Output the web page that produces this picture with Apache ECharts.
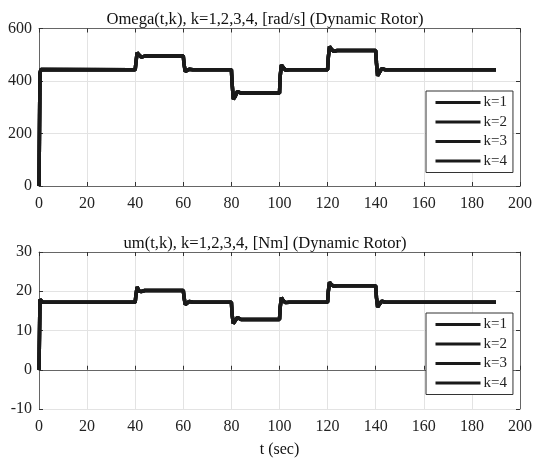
<!DOCTYPE html>
<html lang="en">

<head>
    <meta charset="UTF-8">
    <title>Dynamic Rotor</title>
    <script src="https://cdn.jsdelivr.net/npm/echarts@6/dist/echarts.min.js"></script>
    <style>
        html, body { margin: 0; padding: 0; background: #fff; }
        #main { width: 535px; height: 459px; }
    </style>
</head>

<body>
    <div id="main"></div>
    <script>
        // time points (s)
        var t = [0, 0.4, 0.8, 1.5, 40, 40.3, 40.8, 41.5, 42.5, 44, 60, 60.3, 60.8, 61.5, 62.5, 64,
            80, 80.3, 80.8, 81.5, 82.5, 84, 100, 100.3, 100.8, 101.5, 102.5, 104,
            120, 120.3, 120.8, 121.5, 122.5, 124, 140, 140.3, 140.8, 141.5, 142.5, 144, 190];
        // Omega [rad/s]
        var omega = [0, 430, 444, 443, 443, 470, 508, 500, 491, 495, 495, 465, 436, 438, 445, 443,
            443, 390, 331, 340, 360, 354, 354, 420, 461, 452, 441, 443,
            443, 490, 532, 522, 513, 516, 516, 470, 420, 425, 447, 443, 443];
        // um [Nm]
        var um = [0, 17.9, 17.4, 17.2, 17.2, 19, 21.1, 20.1, 19.9, 20.2, 20.2, 18.5, 16.6, 17.0, 17.4, 17.2,
            17.2, 14, 11.8, 12.2, 13.3, 12.8, 12.8, 16, 18.4, 17.6, 17.1, 17.2,
            17.2, 20, 22.3, 21.7, 21.3, 21.4, 21.4, 18.5, 16.0, 16.5, 17.5, 17.2, 17.2];
        var kNames = ['k=1', 'k=2', 'k=3', 'k=4'];
        var xTicks = [0, 200, 20];
        var omegaTicks = [0, 600, 200];
        var umTicks = [-10, 30, 10];

        var font = 'Liberation Serif';
        var frameColor = '#666';

        function pairs(xs, ys) {
            var out = [];
            for (var i = 0; i < xs.length; i++) out.push([xs[i], ys[i]]);
            return out;
        }

        function mainX(gi, ticks, name) {
            return {
                type: 'value', gridIndex: gi, min: ticks[0], max: ticks[1], interval: ticks[2],
                position: 'bottom',
                name: name || '', nameLocation: 'middle', nameGap: 33,
                nameTextStyle: { fontFamily: font, fontSize: 16, color: '#111' },
                axisLine: { lineStyle: { color: frameColor, width: 1 } },
                axisTick: { inside: true, length: 4, lineStyle: { color: '#333' } },
                axisLabel: { fontFamily: font, fontSize: 16, color: '#222', margin: 10 },
                splitLine: { show: true, lineStyle: { color: '#e3e3e3', width: 1 } }
            };
        }
        function frameX(gi, ticks) {
            return {
                type: 'value', gridIndex: gi, min: ticks[0], max: ticks[1], interval: ticks[2],
                position: 'top',
                axisLine: { show: true, onZero: false, lineStyle: { color: frameColor, width: 1 } },
                axisTick: { inside: true, length: 4, lineStyle: { color: '#333' } },
                axisLabel: { show: false },
                splitLine: { show: false }
            };
        }
        function mainY(gi, ticks) {
            return {
                type: 'value', gridIndex: gi, min: ticks[0], max: ticks[1], interval: ticks[2],
                position: 'left',
                axisLine: { show: true, onZero: false, lineStyle: { color: frameColor, width: 1 } },
                axisTick: { show: true, inside: true, length: 4, lineStyle: { color: '#333' } },
                axisLabel: { fontFamily: font, fontSize: 16, color: '#222', margin: 7 },
                splitLine: { show: true, lineStyle: { color: '#e3e3e3', width: 1 } }
            };
        }
        function frameY(gi, ticks) {
            return {
                type: 'value', gridIndex: gi, min: ticks[0], max: ticks[1], interval: ticks[2],
                position: 'right',
                axisLine: { show: true, onZero: false, lineStyle: { color: frameColor, width: 1 } },
                axisTick: { show: true, inside: true, length: 4, lineStyle: { color: '#333' } },
                axisLabel: { show: false },
                splitLine: { show: false }
            };
        }

        var series = [];
        kNames.forEach(function (k) {
            series.push({
                name: k, type: 'line', xAxisIndex: 0, yAxisIndex: 0,
                data: pairs(t, omega), showSymbol: false, symbol: 'none',
                lineStyle: { color: '#1a1a1a', width: 3.5 }, itemStyle: { color: '#1a1a1a' },
                animation: false, z: 3
            });
            series.push({
                name: k, type: 'line', xAxisIndex: 2, yAxisIndex: 2,
                data: pairs(t, um), showSymbol: false, symbol: 'none',
                lineStyle: { color: '#1a1a1a', width: 3.5 }, itemStyle: { color: '#1a1a1a' },
                animation: false, z: 3
            });
        });

        function legend(top) {
            return {
                data: kNames, orient: 'vertical', left: 426, top: top,
                itemWidth: 45, itemHeight: 14, itemGap: 4.5,
                padding: [4, 6, 4, 8],
                borderColor: '#333', borderWidth: 1, backgroundColor: '#fff',
                lineStyle: { width: 3, color: '#1a1a1a' },
                itemStyle: { opacity: 0, borderWidth: 0 },
                textStyle: { fontFamily: font, fontSize: 15, color: '#222', padding: [0, 0, 0, -2] },
                selectedMode: false
            };
        }

        var myChart = echarts.init(document.getElementById('main'));
        var option = {
            animation: false,
            backgroundColor: '#fff',
            title: [
                {
                    text: 'Omega(t,k), k=1,2,3,4, [rad/s] (Dynamic Rotor)',
                    left: 260, top: 6, textAlign: 'center',
                    textStyle: { fontFamily: font, fontSize: 16.6, fontWeight: 'normal', color: '#111' }
                },
                {
                    text: 'um(t,k), k=1,2,3,4, [Nm] (Dynamic Rotor)',
                    left: 260, top: 230, textAlign: 'center',
                    textStyle: { fontFamily: font, fontSize: 16.6, fontWeight: 'normal', color: '#111' }
                }
            ],
            legend: [legend(91), legend(313)],
            grid: [
                { left: 39, right: 9, top: 28.5, height: 157.5 },
                { left: 39, right: 9, top: 252, height: 157 }
            ],
            xAxis: [
                mainX(0, xTicks), frameX(0, xTicks),
                mainX(1, xTicks, 't (sec)'), frameX(1, xTicks)
            ],
            yAxis: [
                mainY(0, omegaTicks), frameY(0, omegaTicks),
                mainY(1, umTicks), frameY(1, umTicks)
            ],
            series: series
        };
        myChart.setOption(option);
    </script>
</body>

</html>
